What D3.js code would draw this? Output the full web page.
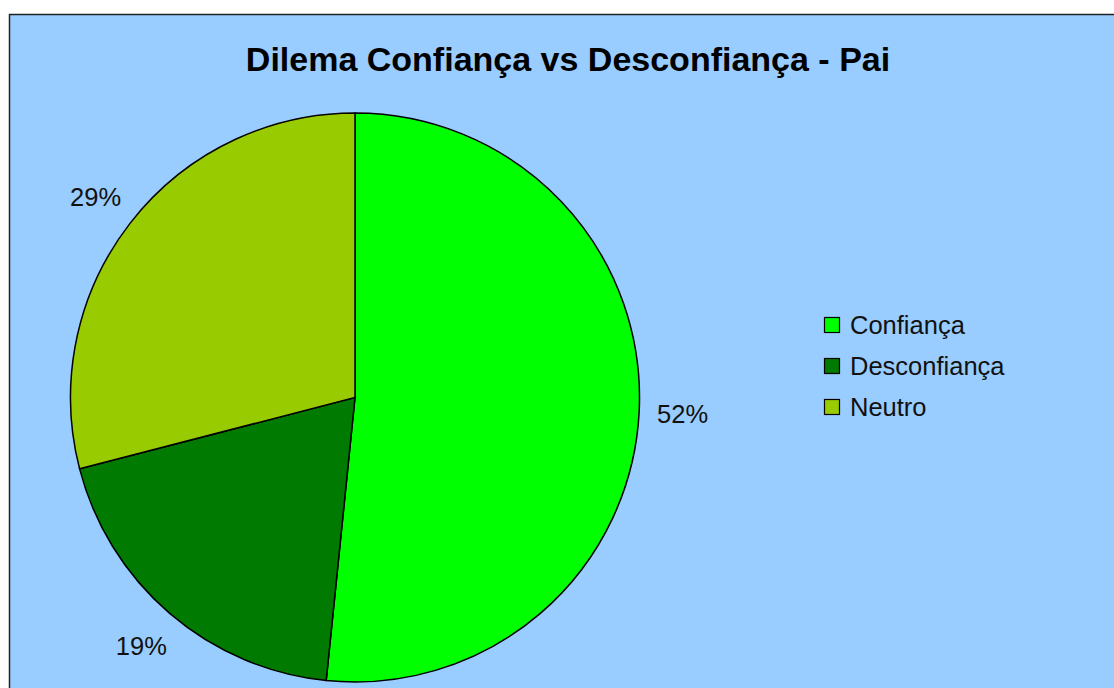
<!DOCTYPE html>
<html>
<head>
<meta charset="utf-8">
<script src="https://cdn.jsdelivr.net/npm/d3@7"></script>
<style>
  html, body { margin: 0; padding: 0; background: #fff; overflow: hidden; }
  text { font-family: "Liberation Sans", Arial, sans-serif; }
  .title { font-size: 34px; font-weight: bold; }
  .label { font-size: 25.5px; }
  .legend text { font-size: 25.5px; }
</style>
</head>
<body>
<div id="chart"></div>
<script>
const WIDTH = 1114, HEIGHT = 688;

// counts behind the rounded percentages (16/31, 6/31, 9/31)
const categories = ["Confiança", "Desconfiança", "Neutro"];
const values = [16, 6, 9];
const colors = ["#00ff00", "#007a00", "#99cc00"];
const titleText = "Dilema Confiança vs Desconfiança - Pai";

const cx = 355, cy = 397.5, R = 284.5;

const svg = d3.select("#chart").append("svg")
  .attr("width", WIDTH).attr("height", HEIGHT);

// plot background + frame (right/bottom edges run off the picture)
svg.append("rect")
  .attr("x", 9.5).attr("y", 14.5)
  .attr("width", WIDTH + 10).attr("height", HEIGHT + 10)
  .attr("fill", "#99ccff").attr("stroke", "#222").attr("stroke-width", 1.5);

svg.append("text").attr("class", "title")
  .attr("x", 568).attr("y", 71).attr("text-anchor", "middle")
  .text(titleText);

const data = categories.map((c, i) => ({ cat: c, value: values[i] }));
const color = d3.scaleOrdinal().domain(categories).range(colors);

const pie = d3.pie().value(d => d.value).sort(null);
const arc = d3.arc().innerRadius(0).outerRadius(R);
const labelArc = d3.arc().innerRadius(328).outerRadius(328);

const g = svg.append("g").attr("transform", `translate(${cx},${cy})`);
const arcs = pie(data);

g.selectAll("path").data(arcs).join("path")
  .attr("d", arc)
  .attr("fill", d => color(d.data.cat))
  .attr("stroke", "#000").attr("stroke-width", 1.5);

const total = d3.sum(values);
g.selectAll(".label").data(arcs).join("text")
  .attr("class", "label")
  .attr("transform", d => `translate(${labelArc.centroid(d)})`)
  .attr("text-anchor", "middle").attr("dy", "0.35em")
  .attr("fill", "#111")
  .text(d => Math.round(d.data.value / total * 100) + "%");

const legend = svg.append("g").attr("class", "legend")
  .attr("transform", "translate(824.5, 317.5)");
const rows = legend.selectAll("g").data(categories).join("g")
  .attr("transform", (_, i) => `translate(0, ${i * 41})`);
rows.append("rect").attr("width", 15).attr("height", 15)
  .attr("fill", d => color(d)).attr("stroke", "#000").attr("stroke-width", 1.2);
rows.append("text").attr("x", 25.5).attr("y", 16.5).attr("fill", "#111").text(d => d);
</script>
</body>
</html>
